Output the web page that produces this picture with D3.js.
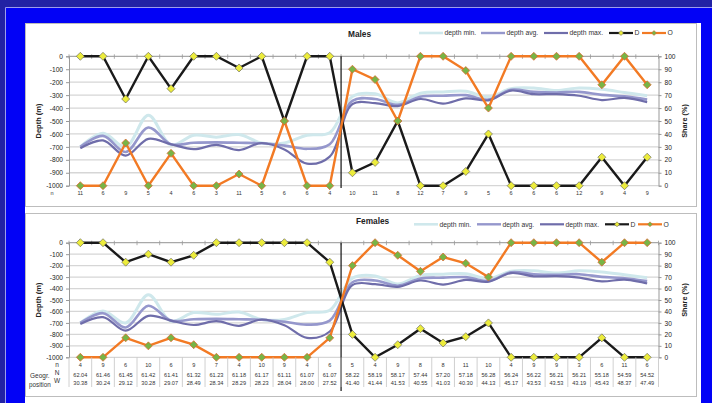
<!DOCTYPE html>
<html>
<head>
<meta charset="utf-8">
<script src="https://cdn.jsdelivr.net/npm/d3@7"></script>
<style>
body { margin: 0; background: #0202f6; }
svg { display: block; font-family: "Liberation Sans", Arial, sans-serif; }
</style>
</head>
<body>
<div id="figure-div"></div>
<script>
// depth curves (m), same sites in both panels
var depthMin = [-700, -595, -700, -455, -685, -610, -625, -605, -670, -670, -610, -590,
                -310, -290, -360, -285, -275, -270, -315, -250, -245, -265, -245, -255, -280, -305];
var depthAvg = [-700, -615, -740, -550, -680, -668, -665, -668, -672, -690, -715, -680,
                -345, -330, -375, -312, -305, -300, -335, -258, -275, -280, -275, -298, -310, -335];
var depthMax = [-710, -650, -768, -638, -680, -718, -685, -725, -670, -720, -830, -775,
                -370, -362, -385, -330, -365, -325, -340, -265, -293, -292, -305, -338, -322, -355];

// shares (%)
var malesD = [100, 100, 67, 100, 75, 100, 100, 91, 100, 50, 100, 100,
              10, 18, 50, 0, 0, 11, 40, 0, 0, 0, 0, 22, 0, 22];
var malesO = [0, 0, 33, 0, 25, 0, 0, 9, 0, 50, 0, 0,
              90, 82, 50, 100, 100, 89, 60, 100, 100, 100, 100, 78, 100, 78];
var femalesD = [100, 100, 83, 90, 83, 89, 100, 100, 100, 100, 100, 83,
                20, 0, 11, 25, 12.5, 18, 30, 0, 0, 0, 0, 17, 0, 0];
var femalesO = [0, 0, 17, 10, 17, 11, 0, 0, 0, 0, 0, 17,
                80, 100, 89, 75, 87.5, 82, 70, 100, 100, 100, 100, 83, 100, 100];

// sample sizes and positions
var malesN = [11, 6, 9, 5, 4, 6, 3, 11, 5, 6, 6, 4, 10, 11, 8, 12, 7, 9, 5, 6, 6, 6, 12, 9, 4, 9];
var femalesN = [4, 9, 6, 10, 6, 9, 7, 4, 10, 9, 4, 6, 5, 4, 9, 8, 8, 11, 10, 4, 9, 9, 3, 6, 11, 6];
var latN = ["62.04", "61.46", "61.45", "61.42", "61.41", "61.32", "61.23", "61.18", "61.17", "61.11", "61.07", "61.07",
            "58.22", "58.19", "58.17", "57.44", "57.20", "57.18", "56.28", "56.24", "56.22", "56.21", "56.21", "55.18", "54.59", "54.52"];
var lonW = ["30.38", "30.24", "29.12", "30.28", "29.07", "28.49", "28.34", "28.29", "28.23", "28.04", "28.00", "27.52",
            "41.40", "41.44", "41.53", "40.55", "41.03", "40.30", "44.13", "45.17", "43.53", "43.53", "43.19", "45.43", "48.37", "47.49"];

var depthTicks = [0, -100, -200, -300, -400, -500, -600, -700, -800, -900, -1000];
var shareTicks = [0, 10, 20, 30, 40, 50, 60, 70, 80, 90, 100];
var splitAfter = 12;

var w = 712, h = 403;
var left = 69, right = 658.5;

var colMin = "#cfe8ec", colAvg = "#9597cc", colMax = "#6f6daa";
var colD = "#1a1a1a", colO = "#f27a24";

var svg = d3.select("#figure-div").append("svg")
  .attr("width", w)
  .attr("height", h);

// frame
svg.append("rect").attr("x", 0).attr("y", 0).attr("width", w).attr("height", h).attr("fill", "#0202f6");
svg.append("rect").attr("x", 0).attr("y", 0).attr("width", w).attr("height", 7).attr("fill", "#2222a4");
svg.append("rect").attr("x", 0).attr("y", 0).attr("width", 5).attr("height", h).attr("fill", "#2222a4");
svg.append("path").attr("d", "M5.5," + h + "V7.5H" + w).attr("fill", "none").attr("stroke", "#9c9cec").attr("stroke-width", 1);
svg.append("rect").attr("x", 25).attr("y", 23).attr("width", 676).attr("height", h - 23).attr("fill", "#ffffff");

var x = d3.scaleBand().domain(d3.range(26)).range([left, right]);
function cx(i) { return x(i) + x.bandwidth() / 2; }
var diamond = "M0,-4L4,0L0,4L-4,0Z";

function drawPanel(p) {
  var g = svg.append("g");
  g.append("rect")
    .attr("x", 25.5).attr("y", p.boxTop + 0.5)
    .attr("width", 671).attr("height", p.boxH)
    .attr("fill", "none").attr("stroke", "#bdbdbd").attr("stroke-width", 1);

  var yDepth = d3.scaleLinear().domain([-1000, 0]).range([p.bottom, p.top]);
  var yShare = d3.scaleLinear().domain([0, 100]).range([p.bottom, p.top]);

  // gridlines
  g.selectAll("line.grid")
    .data(depthTicks)
    .enter()
    .append("line")
    .attr("class", "grid")
    .attr("x1", left).attr("x2", right)
    .attr("y1", function(d) { return yDepth(d); })
    .attr("y2", function(d) { return yDepth(d); })
    .attr("stroke", function(d) { return d == 0 ? "#a8a8a8" : "#d6d6d6"; })
    .attr("stroke-width", 1.3);

  // category ticks along the 0 line
  g.selectAll("line.ctick")
    .data(d3.range(27))
    .enter()
    .append("line")
    .attr("x1", function(i) { return left + i * x.step(); })
    .attr("x2", function(i) { return left + i * x.step(); })
    .attr("y1", p.top - 2).attr("y2", p.top + 2.5)
    .attr("stroke", "#999").attr("stroke-width", 0.8);

  // axes
  var ya = g.append("g")
    .attr("transform", "translate(" + left + ",0)")
    .call(d3.axisLeft(yDepth).tickValues(depthTicks).tickSize(3).tickPadding(3));
  var yb = g.append("g")
    .attr("transform", "translate(" + right + ",0)")
    .call(d3.axisRight(yShare).tickValues(shareTicks).tickSize(3).tickPadding(3));
  [ya, yb].forEach(function(a) {
    a.select(".domain").attr("stroke", "#999");
    a.selectAll(".tick line").attr("stroke", "#999");
    a.selectAll("text").attr("font-family", "Liberation Sans, Arial, sans-serif")
      .attr("font-size", "6.6px").attr("fill", "#222");
  });
  ya.selectAll("text").text(function(d) { return d == 0 ? "0" : "-" + Math.abs(d); });

  g.append("text")
    .attr("transform", "translate(" + 41 + "," + ((p.top + p.bottom) / 2) + ") rotate(-90)")
    .attr("text-anchor", "middle")
    .attr("font-size", "7.5px").attr("font-weight", "bold").attr("fill", "#222")
    .text("Depth (m)");
  g.append("text")
    .attr("transform", "translate(" + 687 + "," + ((p.top + p.bottom) / 2) + ") rotate(-90)")
    .attr("text-anchor", "middle")
    .attr("font-size", "7.3px").attr("font-weight", "bold").attr("fill", "#222")
    .text("Share (%)");

  // depth curves
  var dline = d3.line()
    .x(function(d, i) { return cx(i); })
    .y(function(d) { return yDepth(d); })
    .curve(d3.curveCatmullRom.alpha(0.5));
  g.append("path").attr("d", dline(depthMin)).attr("fill", "none").attr("stroke", colMin).attr("stroke-width", 3);
  g.append("path").attr("d", dline(depthAvg)).attr("fill", "none").attr("stroke", colAvg).attr("stroke-width", 2.6);
  g.append("path").attr("d", dline(depthMax)).attr("fill", "none").attr("stroke", colMax).attr("stroke-width", 2.2);

  // separator
  var sx = left + splitAfter * x.step();
  g.append("line")
    .attr("x1", sx).attr("x2", sx)
    .attr("y1", p.top).attr("y2", p.sepBottom)
    .attr("stroke", "#111").attr("stroke-width", 1.2);

  // share lines
  var sline = d3.line()
    .x(function(d, i) { return cx(i); })
    .y(function(d) { return yShare(d); });
  g.append("path").attr("d", sline(p.D)).attr("fill", "none").attr("stroke", colD).attr("stroke-width", 2.4);
  g.selectAll("path.md")
    .data(p.D)
    .enter()
    .append("path")
    .attr("class", "md")
    .attr("d", diamond)
    .attr("transform", function(d, i) { return "translate(" + cx(i) + "," + yShare(d) + ")"; })
    .attr("fill", "#ecec3c").attr("stroke", "#555").attr("stroke-width", 0.6);
  g.append("path").attr("d", sline(p.O)).attr("fill", "none").attr("stroke", colO).attr("stroke-width", 2.4);
  g.selectAll("path.mo")
    .data(p.O)
    .enter()
    .append("path")
    .attr("class", "mo")
    .attr("d", diamond)
    .attr("transform", function(d, i) { return "translate(" + cx(i) + "," + yShare(d) + ")"; })
    .attr("fill", "#78b446").attr("stroke", "#e2602a").attr("stroke-width", 0.7);

  // title
  g.append("text")
    .attr("x", p.titleX).attr("y", p.titleY + 3)
    .attr("font-size", "8.3px").attr("font-weight", "bold").attr("fill", "#222")
    .text(p.title);

  // legend
  var items = [
    { label: "depth min.", col: colMin, sw: 2.6, mk: null },
    { label: "depth avg.", col: colAvg, sw: 2.4, mk: null },
    { label: "depth max.", col: colMax, sw: 2.2, mk: null },
    { label: "D", col: colD, sw: 2.2, mk: ["#ecec3c", "#555"] },
    { label: "O", col: colO, sw: 2.2, mk: ["#78b446", "#e2602a"] }
  ];
  items.forEach(function(it, k) {
    var x0 = p.legendX[k];
    g.append("line")
      .attr("x1", x0).attr("x2", x0 + 24)
      .attr("y1", p.legendY).attr("y2", p.legendY)
      .attr("stroke", it.col).attr("stroke-width", it.sw);
    if (it.mk) {
      g.append("path").attr("d", "M0,-2.5L2.5,0L0,2.5L-2.5,0Z")
        .attr("transform", "translate(" + (x0 + 12) + "," + p.legendY + ")")
        .attr("fill", it.mk[0]).attr("stroke", it.mk[1]).attr("stroke-width", 0.5);
    }
    g.append("text")
      .attr("x", x0 + 25.5).attr("y", p.legendY + 2.4)
      .attr("font-size", "6.8px").attr("fill", "#333")
      .text(it.label);
  });
  return g;
}

// Males
var gMales = drawPanel({
  title: "Males", titleX: 348, titleY: 33.5,
  boxTop: 23, boxH: 183,
  top: 56.3, bottom: 185.7, sepBottom: 188,
  legendY: 33, legendX: [419, 481, 544, 609, 642],
  D: malesD, O: malesO
});
gMales.append("text")
  .attr("x", 52).attr("y", 195)
  .attr("text-anchor", "middle").attr("font-size", "5.5px").attr("fill", "#333")
  .text("n");
gMales.selectAll("text.n")
  .data(malesN)
  .enter()
  .append("text")
  .attr("class", "n")
  .attr("x", function(d, i) { return cx(i); })
  .attr("y", 195)
  .attr("text-anchor", "middle").attr("font-size", "5.5px").attr("fill", "#333")
  .text(function(d) { return d; });

// Females
var gFemales = drawPanel({
  title: "Females", titleX: 356, titleY: 221,
  boxTop: 213, boxH: 183,
  top: 242.7, bottom: 357.3, sepBottom: 391,
  legendY: 224.3, legendX: [414, 477, 540, 605, 638],
  D: femalesD, O: femalesO
});
gFemales.selectAll("line.tab")
  .data(d3.range(27))
  .enter()
  .append("line")
  .attr("x1", function(i) { return left + i * x.step(); })
  .attr("x2", function(i) { return left + i * x.step(); })
  .attr("y1", 357.3).attr("y2", 387)
  .attr("stroke", "#c4c4c4").attr("stroke-width", 0.8);
var rows = [
  { y: 367, vals: femalesN },
  { y: 377.3, vals: latN },
  { y: 385.3, vals: lonW }
];
rows.forEach(function(r) {
  gFemales.selectAll(null)
    .data(r.vals)
    .enter()
    .append("text")
    .attr("x", function(d, i) { return cx(i); })
    .attr("y", r.y)
    .attr("text-anchor", "middle").attr("font-size", "5.6px").attr("fill", "#333")
    .text(function(d) { return d; });
});
[["n", 57, 367.3], ["N", 57, 375.3], ["W", 57, 383.3]].forEach(function(t) {
  gFemales.append("text").attr("x", t[1]).attr("y", t[2])
    .attr("text-anchor", "middle").attr("font-size", "6.5px").attr("fill", "#333").text(t[0]);
});
gFemales.append("text").attr("x", 30).attr("y", 378).attr("font-size", "6.5px").attr("fill", "#333").text("Geogr.");
gFemales.append("text").attr("x", 29).attr("y", 386.5).attr("font-size", "6.3px").attr("fill", "#333").text("position");
</script>
</body>
</html>
